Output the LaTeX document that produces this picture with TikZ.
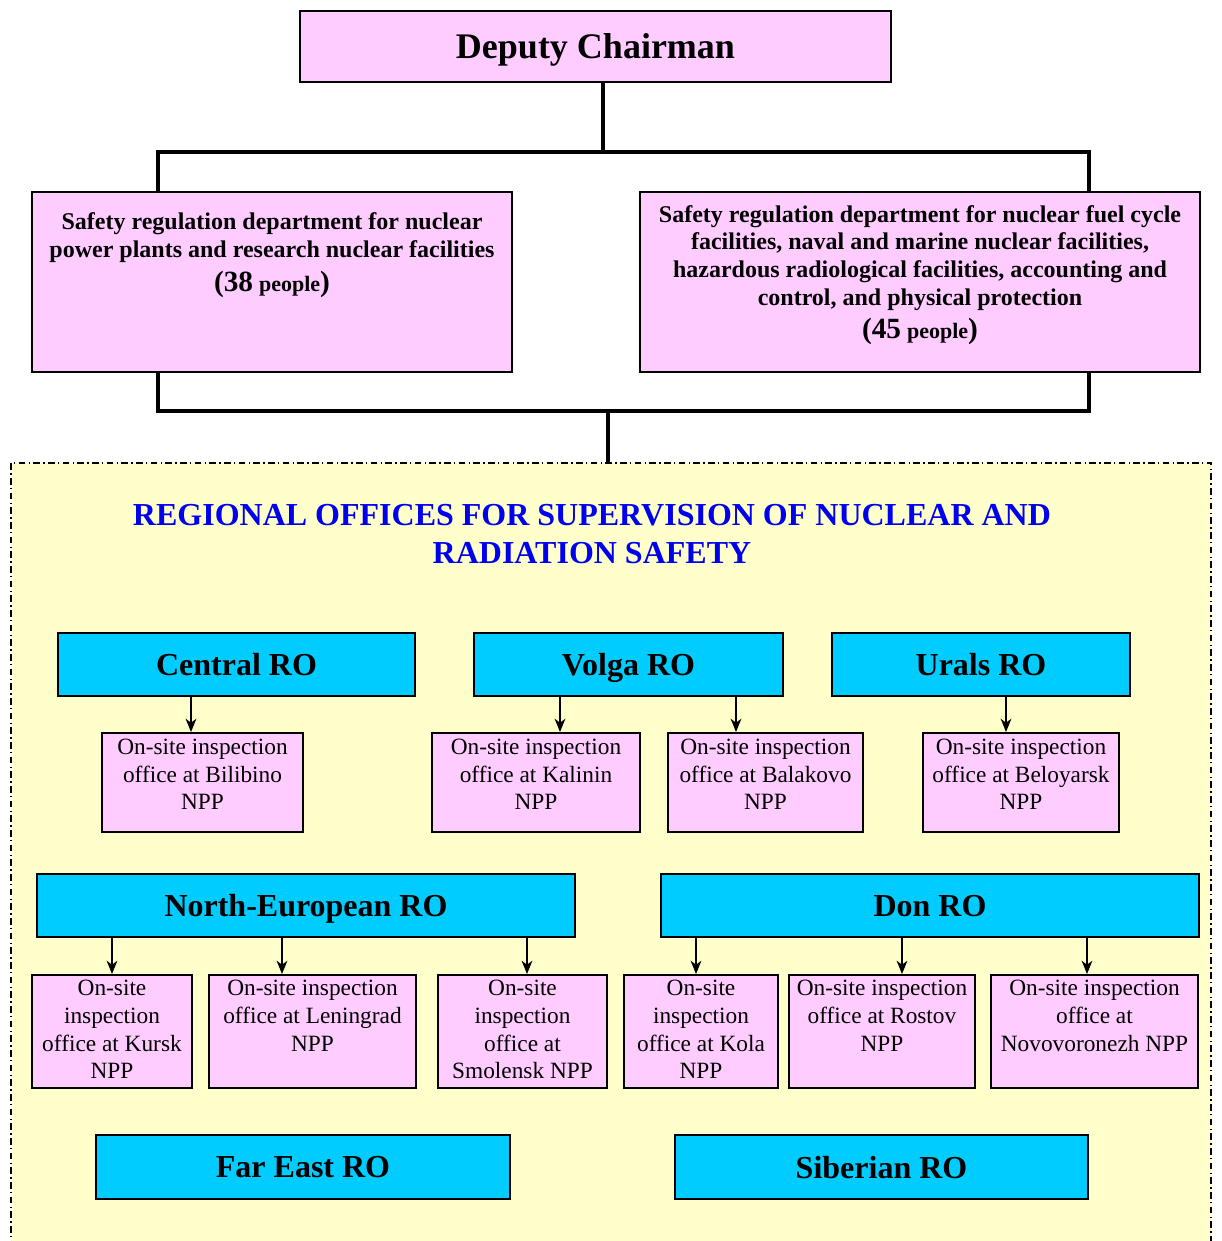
\documentclass[tikz,border=0pt]{standalone}
\usepackage{fontspec}
\setmainfont{Liberation Serif}
\usepackage{tikz}
\usetikzlibrary{arrows.meta,positioning,calc}
\definecolor{pinkbox}{RGB}{255,204,255}
\definecolor{cyanbox}{RGB}{0,204,255}
\definecolor{paleyellow}{RGB}{255,255,204}
\definecolor{titleblue}{RGB}{0,0,240}
\tikzstyle{Cstate}=[shape=rectangle,draw=black,line width=1.4pt,fill=pinkbox,inner sep=0pt]
\tikzstyle{ROstate}=[shape=rectangle,draw=black,line width=1.6pt,fill=cyanbox,inner sep=0pt,minimum height=47.25pt,text depth=0pt,font=\fontsize{24}{28}\selectfont\bfseries]
\tikzstyle{Ostate}=[shape=rectangle,draw=black,line width=1.4pt,fill=pinkbox,inner sep=0pt]
\tikzstyle{Otext}=[anchor=north,align=center,inner sep=0pt,font=\fontsize{17.5}{20.8}\selectfont]
\tikzstyle{Dtext}=[anchor=north,align=center,inner sep=0pt,font=\fontsize{18}{20.8}\selectfont\bfseries]
\tikzstyle{bus}=[line width=3.4pt]
\tikzstyle{downedge}=[-{Stealth[length=10pt,width=8pt,inset=3pt]},line width=1.3pt]
\newcommand{\people}[1]{{\fontsize{22}{22}\selectfont(#1} {\fontsize{16.5}{20}\selectfont people}{\fontsize{22}{22}\selectfont)}}

\begin{document}
\begin{tikzpicture}[x=0.75pt,y=-0.75pt]
\useasboundingbox (0,0) rectangle (1221,1241);
\clip (0,0) rectangle (1221,1241);

%top level
\node[Cstate,minimum width=443.25pt,minimum height=53.25pt,text depth=0pt,font=\fontsize{27}{30}\selectfont\bfseries] (dc) at (595.5,46.5){Deputy Chairman};

\node[Cstate,minimum width=360pt,minimum height=135pt] (dep1) at (272,282){};
\node[Dtext] (dep1t) at ([yshift=-16pt]dep1.north){Safety regulation department for nuclear\\ power plants and research nuclear facilities\\[4.5pt] \people{38}};

\node[Cstate,minimum width=420pt,minimum height=135pt] (dep2) at (920,282){};
\node[Dtext] (dep2t) at ([yshift=-10.5pt]dep2.north){Safety regulation department for nuclear fuel cycle\\ facilities, naval and marine nuclear facilities,\\ hazardous radiological facilities, accounting and\\ control, and physical protection\\[4pt] \people{45}};

%regional offices
\node[rectangle,draw=black,line width=1.2pt,dash pattern=on 5pt off 2.5pt on 1pt off 2.5pt,fill=paleyellow,minimum width=900pt,minimum height=597.75pt,inner sep=0pt] (frame) at (611,861.5){};
\node[align=center,text=titleblue,font=\fontsize{24}{28.5}\selectfont\bfseries] (title) at (592,534){REGIONAL OFFICES FOR SUPERVISION OF NUCLEAR AND\\ RADIATION SAFETY};

\node[ROstate,minimum width=267.75pt] (central) at (236.5,664.5){Central RO};
\node[ROstate,minimum width=231.75pt] (volga) at (628.5,664.5){Volga RO};
\node[ROstate,minimum width=223.5pt] (urals) at (981,664.5){Urals RO};

\node[Ostate,minimum width=150.75pt,minimum height=74.25pt] (bilibino) at (202.5,782.5){};
\node[Otext] (bilibinot) at ([yshift=-5pt]bilibino.north){On-site inspection\\ office at Bilibino\\ NPP};
\node[Ostate,minimum width=156pt,minimum height=74.25pt] (kalinin) at (536,782.5){};
\node[Otext] (kalinint) at ([yshift=-5pt]kalinin.north){On-site inspection\\ office at Kalinin\\ NPP};
\node[Ostate,minimum width=146.25pt,minimum height=74.25pt] (balakovo) at (765.5,782.5){};
\node[Otext] (balakovot) at ([yshift=-5pt]balakovo.north){On-site inspection\\ office at Balakovo\\ NPP};
\node[Ostate,minimum width=147pt,minimum height=74.25pt] (beloyarsk) at (1021,782.5){};
\node[Otext] (beloyarskt) at ([yshift=-5pt]beloyarsk.north){On-site inspection\\ office at Beloyarsk\\ NPP};

\node[ROstate,minimum width=403.5pt] (northeu) at (306,905.5){North-European RO};
\node[ROstate,minimum width=403.5pt] (don) at (930,905.5){Don RO};

\node[Ostate,minimum width=120pt,minimum height=84.75pt] (kursk) at (112,1031.5){};
\node[Otext] (kurskt) at ([yshift=-4.5pt]kursk.north){On-site\\ inspection\\ office at Kursk\\ NPP};
\node[Ostate,minimum width=155.25pt,minimum height=84.75pt] (leningrad) at (312.5,1031.5){};
\node[Otext] (leningradt) at ([yshift=-4.5pt]leningrad.north){On-site inspection\\ office at Leningrad\\ NPP};
\node[Ostate,minimum width=126.75pt,minimum height=84.75pt] (smolensk) at (522.5,1031.5){};
\node[Otext] (smolenskt) at ([yshift=-4.5pt]smolensk.north){On-site\\ inspection\\ office at\\ Smolensk NPP};
\node[Ostate,minimum width=115.5pt,minimum height=84.75pt] (kola) at (701,1031.5){};
\node[Otext] (kolat) at ([yshift=-4.5pt]kola.north){On-site\\ inspection\\ office at Kola\\ NPP};
\node[Ostate,minimum width=139.5pt,minimum height=84.75pt] (rostov) at (882,1031.5){};
\node[Otext] (rostovt) at ([yshift=-4.5pt]rostov.north){On-site inspection\\ office at Rostov\\ NPP};
\node[Ostate,minimum width=155.25pt,minimum height=84.75pt] (novovoronezh) at (1094.5,1031.5){};
\node[Otext] (novovoronezht) at ([yshift=-4.5pt]novovoronezh.north){On-site inspection\\ office at\\ Novovoronezh NPP};

\node[ROstate,minimum width=310.5pt,minimum height=48pt] (fareast) at (303,1167){Far East RO};
\node[ROstate,minimum width=309.75pt,minimum height=48pt] (siberian) at (881.5,1167){Siberian RO};

%connectors
\coordinate (split) at (603,152);
\coordinate (merge) at (608,411);
\draw[bus] (dc.south -| split) -- (split);
\draw[bus] (dep1.north -| 158,0) |- (split) -| (dep2.north -| 1089,0);
\draw[bus] (dep1.south -| 158,0) |- (merge) -| (dep2.south -| 1089,0);
\draw[bus] (merge) -- (merge |- frame.north);

\draw[downedge] (191,0 |- central.south) -- (191,0 |- bilibino.north);
\draw[downedge] (560,0 |- volga.south) -- (560,0 |- kalinin.north);
\draw[downedge] (736,0 |- volga.south) -- (736,0 |- balakovo.north);
\draw[downedge] (1006,0 |- urals.south) -- (1006,0 |- beloyarsk.north);

\draw[downedge] (112,0 |- northeu.south) -- (112,0 |- kursk.north);
\draw[downedge] (282,0 |- northeu.south) -- (282,0 |- leningrad.north);
\draw[downedge] (527,0 |- northeu.south) -- (527,0 |- smolensk.north);
\draw[downedge] (696,0 |- don.south) -- (696,0 |- kola.north);
\draw[downedge] (902,0 |- don.south) -- (902,0 |- rostov.north);
\draw[downedge] (1087,0 |- don.south) -- (1087,0 |- novovoronezh.north);
\end{tikzpicture}
\end{document}
